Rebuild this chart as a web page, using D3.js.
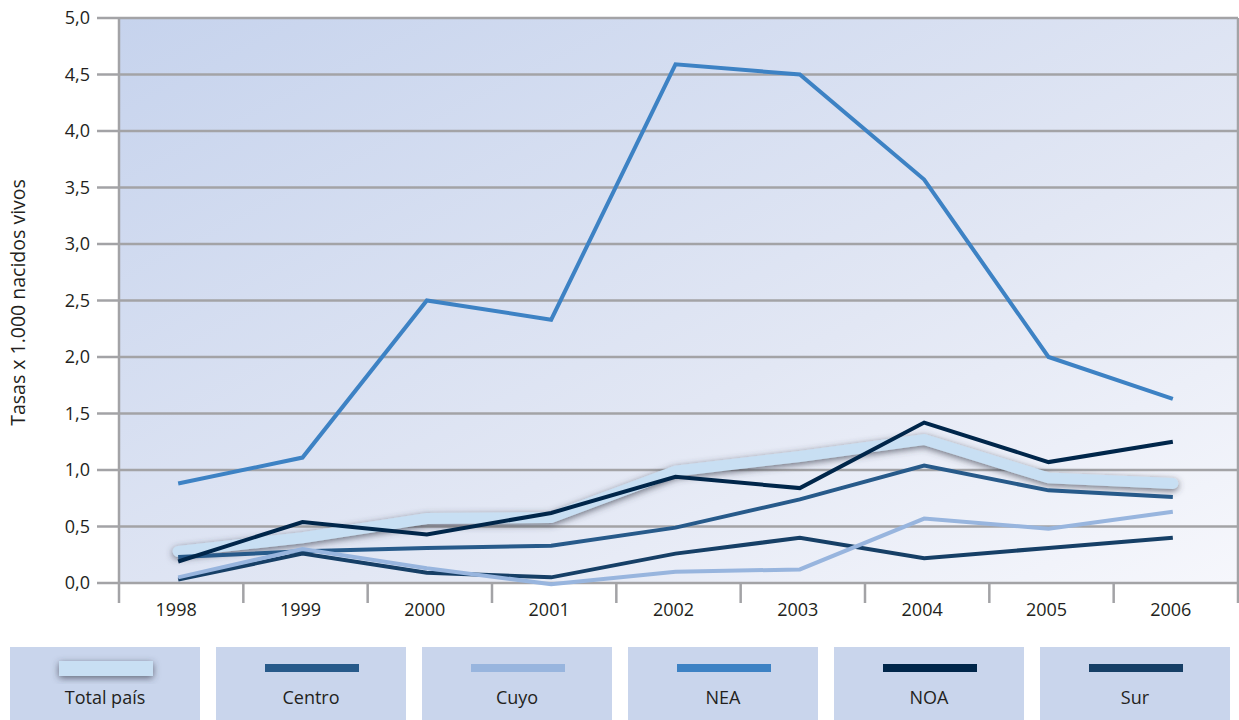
<!DOCTYPE html>
<html>
<head>
<meta charset="utf-8">
<script src="https://cdn.jsdelivr.net/npm/d3@7"></script>
<style>
  body { margin: 0; background: #ffffff; }
  svg { display: block; font-family: "Open Sans", "Noto Sans", sans-serif; }
</style>
</head>
<body>
<script>
// DATA ––––––––––––––––––––––––––––––––––––––––––––––––––––––––––––––
var years = ["1998", "1999", "2000", "2001", "2002", "2003", "2004", "2005", "2006"];
var yTicks = [0, 0.5, 1, 1.5, 2, 2.5, 3, 3.5, 4, 4.5, 5];

var totalPais = [0.28, 0.40, 0.57, 0.58, 0.99, 1.12, 1.27, 0.93, 0.88];
var centro    = [0.23, 0.28, 0.31, 0.33, 0.49, 0.74, 1.04, 0.82, 0.76];
var cuyo      = [0.05, 0.30, 0.13, -0.01, 0.10, 0.12, 0.57, 0.48, 0.63];
var nea       = [0.88, 1.11, 2.50, 2.33, 4.59, 4.50, 3.57, 2.00, 1.63];
var noa       = [0.19, 0.54, 0.43, 0.62, 0.94, 0.84, 1.42, 1.07, 1.25];
var sur       = [0.03, 0.26, 0.09, 0.05, 0.26, 0.40, 0.22, 0.31, 0.40];

var seriesNames = ["Total país", "Centro", "Cuyo", "NEA", "NOA", "Sur"];
var seriesColors = ["#c8dff3", "#275a8a", "#98b5de", "#3d82c4", "#00264a", "#163f66"];

// CHART –––––––––––––––––––––––––––––––––––––––––––––––––––––––––––––
var width = 1239, height = 720;
var plot = {left: 119, right: 1238, top: 18, bottom: 583};

var svg = d3.select("body").append("svg")
    .attr("width", width)
    .attr("height", height);

var defs = svg.append("defs");
var grad = defs.append("linearGradient")
    .attr("id", "bg")
    .attr("x1", "0%").attr("y1", "0%")
    .attr("x2", "100%").attr("y2", "100%");
grad.append("stop").attr("offset", "0%").attr("stop-color", "#c6d3ed");
grad.append("stop").attr("offset", "60%").attr("stop-color", "#e2e7f4");
grad.append("stop").attr("offset", "100%").attr("stop-color", "#f6f7fc");

var shadow = defs.append("filter")
    .attr("id", "shadow")
    .attr("x", "-10%").attr("y", "-50%")
    .attr("width", "120%").attr("height", "200%");
shadow.append("feDropShadow")
    .attr("dx", 0).attr("dy", 2)
    .attr("stdDeviation", 3.5)
    .attr("flood-color", "#3c4250")
    .attr("flood-opacity", 0.75);

var x = d3.scaleBand()
    .domain(years)
    .range([plot.left, plot.right]);

var y = d3.scaleLinear()
    .domain([0, 5])
    .range([plot.bottom, plot.top]);

var fmt = function(d) { return d3.format(".1f")(d).replace(".", ","); };

// plot background
svg.append("rect")
    .attr("x", plot.left)
    .attr("y", plot.top)
    .attr("width", plot.right - plot.left)
    .attr("height", plot.bottom - plot.top)
    .attr("fill", "url(#bg)");

// gridlines + left ticks
svg.append("g")
  .selectAll("line")
  .data(yTicks)
  .join("line")
    .attr("x1", plot.left - 22)
    .attr("x2", plot.right)
    .attr("y1", function(d) { return y(d); })
    .attr("y2", function(d) { return y(d); })
    .attr("stroke", "#a3a3a6")
    .attr("stroke-width", 2.5);

// y tick labels
svg.append("g")
  .selectAll("text")
  .data(yTicks)
  .join("text")
    .attr("x", 90)
    .attr("y", function(d) { return y(d); })
    .attr("dy", "0.35em")
    .attr("text-anchor", "end")
    .attr("font-size", 18)
    .attr("fill", "#231f20")
    .text(fmt);

// plot frame
svg.append("line")
    .attr("x1", plot.left).attr("x2", plot.left)
    .attr("y1", plot.top).attr("y2", plot.bottom + 20)
    .attr("stroke", "#a3a3a6").attr("stroke-width", 2.5);
svg.append("line")
    .attr("x1", plot.right).attr("x2", plot.right)
    .attr("y1", plot.top).attr("y2", plot.bottom + 20)
    .attr("stroke", "#a3a3a6").attr("stroke-width", 2.5);

// x separators
svg.append("g")
  .selectAll("line")
  .data(years.slice(1))
  .join("line")
    .attr("x1", function(d) { return x(d); })
    .attr("x2", function(d) { return x(d); })
    .attr("y1", plot.bottom)
    .attr("y2", plot.bottom + 20)
    .attr("stroke", "#a3a3a6")
    .attr("stroke-width", 2.5);

// x labels
svg.append("g")
  .selectAll("text")
  .data(years)
  .join("text")
    .attr("x", function(d) { return x(d) + x.bandwidth() / 2 - 5; })
    .attr("y", 610)
    .attr("dy", "0.35em")
    .attr("text-anchor", "middle")
    .attr("font-size", 18)
    .attr("fill", "#231f20")
    .text(function(d) { return d; });

// y axis title
svg.append("text")
    .attr("transform", "translate(25," + ((plot.top + plot.bottom) / 2 + 2) + ") rotate(-90)")
    .attr("text-anchor", "middle")
    .attr("font-size", 19.5)
    .attr("fill", "#231f20")
    .text("Tasas x 1.000 nacidos vivos");

// lines
var allSeries = [totalPais, centro, cuyo, nea, noa, sur];
var line = d3.line()
    .x(function(d, i) { return x(years[i]) + x.bandwidth() / 2 - 3; })
    .y(function(d) { return y(d); });

var drawOrder = [0, 1, 5, 2, 3, 4];
drawOrder.forEach(function(k) {
  var p = svg.append("path")
      .datum(allSeries[k])
      .attr("fill", "none")
      .attr("stroke", seriesColors[k])
      .attr("stroke-width", k === 0 ? 11 : 4)
      .attr("stroke-linejoin", "miter")
      .attr("stroke-linecap", k === 0 ? "round" : "butt")
      .attr("d", line);
  if (k === 0) p.attr("filter", "url(#shadow)");
});

// LEGEND ––––––––––––––––––––––––––––––––––––––––––––––––––––––––––––
var legend = svg.append("g")
  .selectAll("g")
  .data(seriesNames)
  .join("g")
    .attr("transform", function(d, i) { return "translate(" + (10 + i * 206) + ",647)"; });

legend.append("rect")
    .attr("width", 190)
    .attr("height", 73)
    .attr("fill", "#c9d5ec");

legend.append("rect")
    .attr("x", 49)
    .attr("y", function(d, i) { return i === 0 ? 14 : 17; })
    .attr("width", 94)
    .attr("height", function(d, i) { return i === 0 ? 15 : 8; })
    .attr("fill", function(d, i) { return seriesColors[i]; })
    .attr("filter", function(d, i) { return i === 0 ? "url(#shadow)" : null; });

legend.append("text")
    .attr("x", 95)
    .attr("y", 51)
    .attr("dy", "0.35em")
    .attr("text-anchor", "middle")
    .attr("font-size", 18)
    .attr("fill", "#231f20")
    .text(function(d) { return d; });
</script>
</body>
</html>
